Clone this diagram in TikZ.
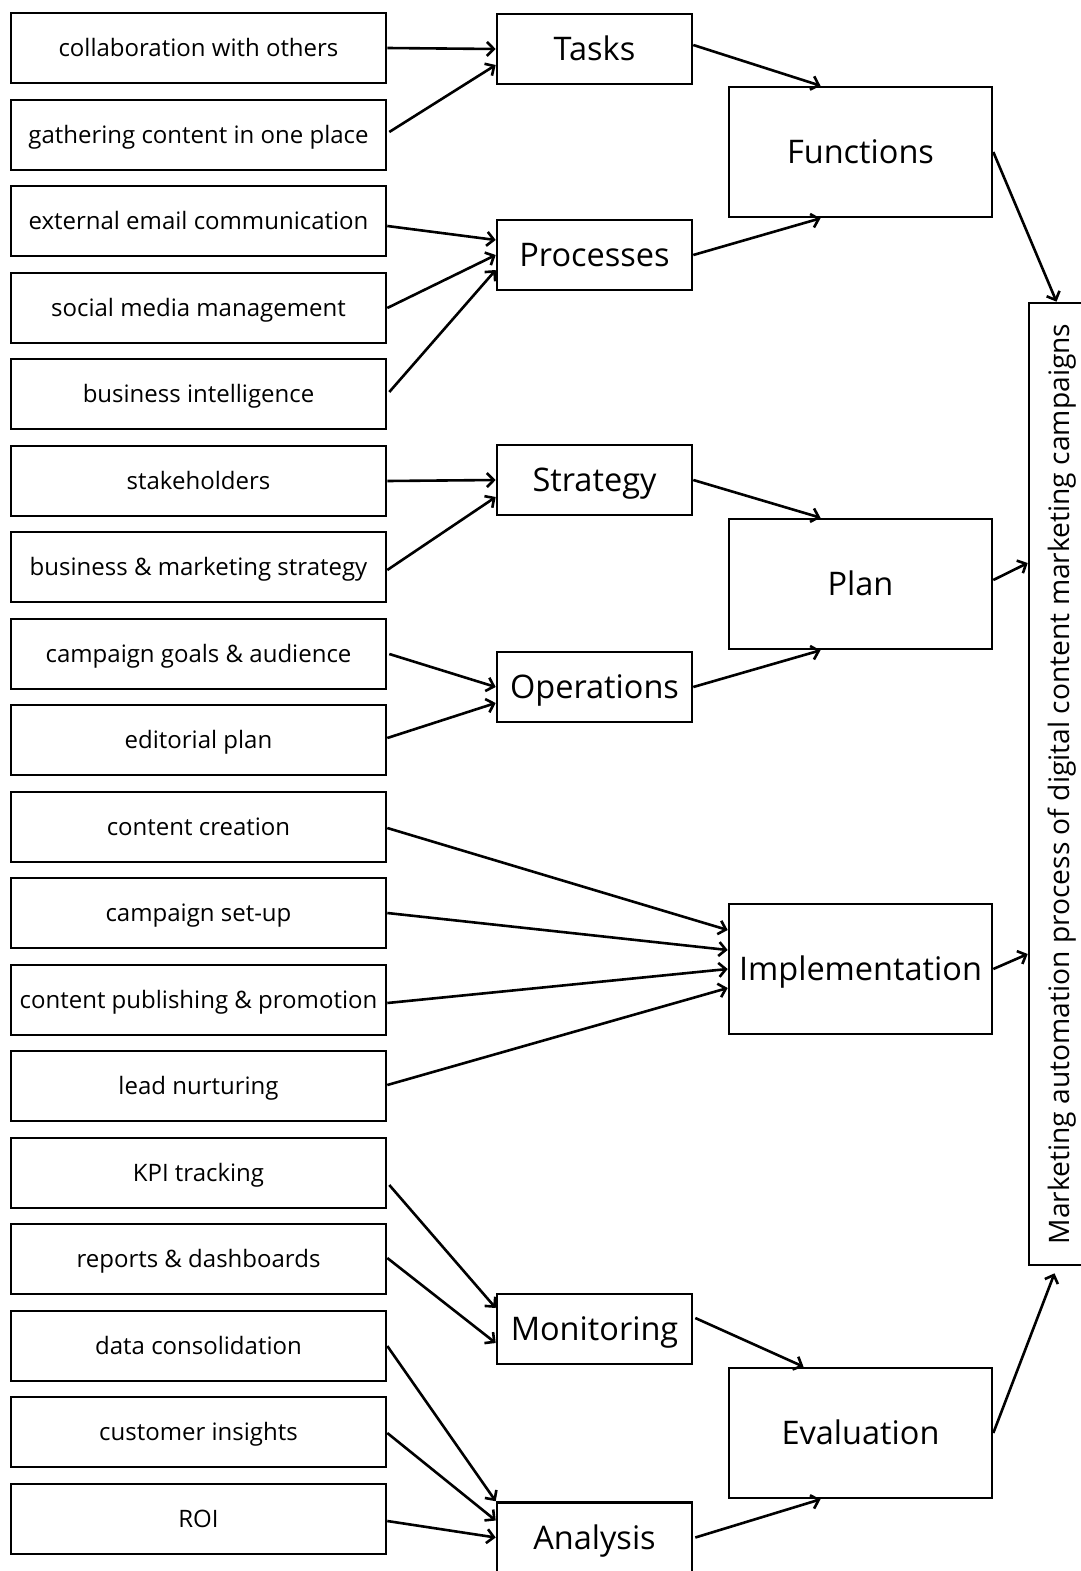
\documentclass[tikz,border=0pt]{standalone}
\usepackage{fontspec}
\setmainfont{Open Sans}
\usetikzlibrary{arrows.meta,calc}
\begin{document}
\begin{tikzpicture}[x=1pt,y=-1pt,
  lbox/.style={draw, line width=2.6pt, minimum width=375pt, minimum height=70pt, inner sep=0pt, text height=17.1pt, text depth=0pt, font=\fontsize{24}{28}\selectfont},
  mbox/.style={draw, line width=2.6pt, minimum width=195pt, minimum height=70pt, inner sep=0pt, text height=23.2pt, text depth=0pt, font=\fontsize{32.5}{38}\selectfont},
  rbox/.style={draw, line width=2.6pt, minimum width=263pt, minimum height=130pt, inner sep=0pt, text height=23.2pt, text depth=0pt, font=\fontsize{32.5}{38}\selectfont},
  arr/.style={line width=2.6pt, -{Straight Barb[length=7pt,width=14pt,line width=2.6pt]}}]
\useasboundingbox (0,0) rectangle (1081,1571);
\clip (0,0) rectangle (1081,1571);
% left column
\node[lbox] (l1) at (198.5,48) {collaboration with others};
\node[lbox] (l2) at (198.5,135) {gathering content in one place};
\node[lbox] (l3) at (198.5,221) {external email communication};
\node[lbox] (l4) at (198.5,308) {social media management};
\node[lbox] (l5) at (198.5,394) {business intelligence};
\node[lbox] (l6) at (198.5,481) {stakeholders};
\node[lbox] (l7) at (198.5,567) {business \& marketing strategy};
\node[lbox] (l8) at (198.5,654) {campaign goals \& audience};
\node[lbox] (l9) at (198.5,740) {editorial plan};
\node[lbox] (l10) at (198.5,827) {content creation};
\node[lbox] (l11) at (198.5,913) {campaign set-up};
\node[lbox] (l12) at (198.5,1000) {content publishing \& promotion};
\node[lbox] (l13) at (198.5,1086) {lead nurturing};
\node[lbox] (l14) at (198.5,1173) {KPI tracking};
\node[lbox] (l15) at (198.5,1259) {reports \& dashboards};
\node[lbox] (l16) at (198.5,1346) {data consolidation};
\node[lbox] (l17) at (198.5,1432) {customer insights};
\node[lbox] (l18) at (198.5,1519) {ROI};
% middle column
\node[mbox] (tasks) at (594.5,49) {Tasks};
\node[mbox] (procs) at (594.5,255) {Processes};
\node[mbox] (strat) at (594.5,480) {Strategy};
\node[mbox] (ops) at (594.5,687) {Operations};
\node[mbox] (mon) at (594.5,1329) {Monitoring};
\node[mbox] (ana) at (594.5,1537.5) {Analysis};
% right column
\node[rbox] (func) at (860.5,152) {Functions};
\node[rbox] (plan) at (860.5,584) {Plan};
\node[rbox] (impl) at (860.5,969) {Implementation};
\node[rbox] (eval) at (860.5,1433) {Evaluation};
% vertical box
\node[draw, line width=2.6pt, minimum width=61pt, minimum height=962pt, inner sep=0pt, font=\fontsize{28.2}{32}\selectfont] (vert) at (1059.5,784) {\rotatebox{90}{\raisebox{0pt}[20.1pt][0pt]{Marketing automation process of digital content marketing campaigns}}};
% arrows
\draw[arr] (l1.east) -- (tasks.west);
\draw[arr] ($(l2.east)+(2,-3)$) -- ($(tasks.west)+(0,16)$);
\draw[arr] ($(tasks.east)+(0,-4)$) -- ($(func.north)+(-40,0)$);
\draw[arr] (procs.east) -- ($(func.south)+(-40,0)$);
\draw[arr] ($(l3.east)+(0,5)$) -- ($(procs.west)+(0,-15)$);
\draw[arr] (l4.east) -- (procs.west);
\draw[arr] ($(l5.east)+(2,-2)$) -- ($(procs.west)+(0,15)$);
\draw[arr] (func.east) -- ($(vert.north)+(-3,0)$);
\draw[arr] (l6.east) -- (strat.west);
\draw[arr] ($(l7.east)+(0,3)$) -- ($(strat.west)+(0,17)$);
\draw[arr] (strat.east) -- ($(plan.north)+(-40,0)$);
\draw[arr] ($(l8.east)+(2,0)$) -- (ops.west);
\draw[arr] ($(l9.east)+(0,-2)$) -- ($(ops.west)+(0,16)$);
\draw[arr] (ops.east) -- ($(plan.south)+(-40,0)$);
\draw[arr] ($(plan.east)+(0,-4)$) -- ($(plan.east -| vert.west)+(0,-21)$);
\draw[arr] ($(l10.east)+(0,1)$) -- ($(impl.west)+(0,-39)$);
\draw[arr] (l11.east) -- ($(impl.west)+(0,-19)$);
\draw[arr] ($(l12.east)+(0,3)$) -- (impl.west);
\draw[arr] ($(l13.east)+(0,-1)$) -- ($(impl.west)+(0,19)$);
\draw[arr] (impl.east) -- ($(impl.east -| vert.west)+(0,-15)$);
\draw[arr] ($(l14.east)+(2,12)$) -- ($(mon.west)+(0,-21)$);
\draw[arr] ($(l15.east)+(0,-1)$) -- ($(mon.west)+(0,14)$);
\draw[arr] ($(mon.east)+(2,-11)$) -- ($(eval.north)+(-57,0)$);
\draw[arr] (l16.east) -- (ana.north west);
\draw[arr] ($(l17.east)+(0,1)$) -- ($(ana.west)+(0,-17)$);
\draw[arr] ($(l18.east)+(0,2)$) -- (ana.west);
\draw[arr] ($(ana.east)+(2,0)$) -- ($(eval.south)+(-40,0)$);
\draw[arr] (eval.east) -- ($(vert.south)+(-5,7)$);
\end{tikzpicture}
\end{document}
